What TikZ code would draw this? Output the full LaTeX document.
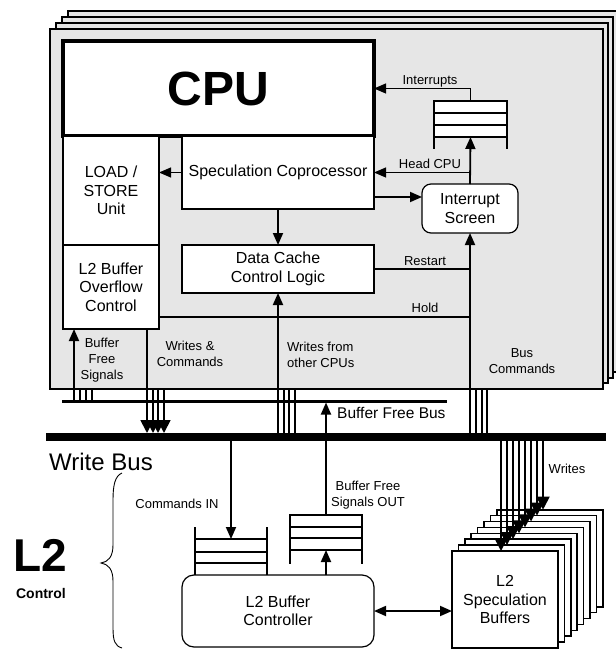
\documentclass[tikz,border=0pt]{standalone}
\usepackage{fontspec}
\setmainfont{Liberation Sans}
\usetikzlibrary{arrows.meta,calc}
\definecolor{panelgray}{HTML}{E6E6E6}
\newcommand{\fsz}[2]{\fontsize{#1}{#2}\selectfont}
\begin{document}
\begin{tikzpicture}[x=1pt,y=-1pt,
  panel/.style={draw, fill=panelgray, line width=1.2pt, anchor=north west, inner sep=0pt, outer sep=0pt},
  blk/.style={draw, fill=white, line width=1.2pt, anchor=north west, inner sep=0pt, outer sep=0pt, align=center, font=\fsz{16}{18.5}},
  qbox/.style={draw, fill=white, line width=1.1pt, anchor=north west, inner sep=0pt, outer sep=0pt},
  lbl/.style={inner sep=0pt, align=center, font=\fsz{13}{16}},
  arr/.style={-{Triangle[length=12pt,width=10pt]}, line width=1.8pt},
  tarr/.style={-{Triangle[length=12pt,width=10pt]}, line width=1.1pt},
  warr/.style={-{Triangle[length=13pt,width=13pt]}, line width=1.8pt},
  darr/.style={{Triangle[length=12pt,width=10pt]}-{Triangle[length=12pt,width=10pt]}, line width=1.8pt},
  bl/.style={line width=1.1pt},
  busline/.style={fill=black, draw=none, anchor=north west, inner sep=0pt, outer sep=0pt}
]
\useasboundingbox (0,0) rectangle (615,652);

% stacked panels
\node[panel, minimum width=550pt, minimum height=361pt] (p3) at (68,11) {};
\node[panel, minimum width=551pt, minimum height=361pt] (p2) at (62,17) {};
\node[panel, minimum width=552pt, minimum height=360pt] (p1) at (56,23) {};
\node[panel, minimum width=553pt, minimum height=360pt] (p0) at (50,29) {};

% blocks
\node[blk, line width=4pt, minimum width=311pt, minimum height=95pt, font=\bfseries\fsz{48}{50}] (cpu) at (63,41) {CPU};
\node[blk, minimum width=96pt, minimum height=109pt] (ls) at (63,136) {LOAD /\\STORE\\Unit};
\node[blk, minimum width=96pt, minimum height=84pt] (ovf) at (63,245) {L2 Buffer\\Overflow\\Control};
\node[blk, minimum width=192pt, minimum height=73pt] (spec) at (182,136) {Speculation Coprocessor};
\node[blk, minimum width=192pt, minimum height=48pt] (dcc) at (182,245) {Data Cache\\Control Logic};
\node[blk, rounded corners=9pt, minimum width=96pt, minimum height=49pt] (isc) at (422,184) {Interrupt\\Screen};

% interrupt queue
\node[qbox, minimum width=73pt, minimum height=36pt] (qint) at (434,101) {};
\draw[bl] ($(qint.north west)+(0,12)$) -- ($(qint.north east)+(0,12)$);
\draw[bl] ($(qint.north west)+(0,24)$) -- ($(qint.north east)+(0,24)$);
\draw[bl] (qint.south west) -- ++(0,12);
\draw[bl] (qint.south east) -- ++(0,12);

% buses
\node[busline, minimum width=560pt, minimum height=8pt] (wbus) at (46,433) {};
\node[busline, minimum width=385pt, minimum height=2.5pt] (fbus) at (62,400) {};

% lower blocks
\node[blk, rounded corners=12pt, minimum width=192pt, minimum height=72pt] (ctrl) at (182,575) {L2 Buffer\\Controller};
\foreach \j in {7,6,...,1} {
  \node[blk, line width=1.6pt, minimum width=106pt, minimum height=97pt] (sb\j) at ({452+6.4*\j},{551-5.9*\j}) {};
}
\node[blk, line width=1.6pt, minimum width=106pt, minimum height=97pt] (sb0) at (452,551) {L2\\Speculation\\Buffers};

% queues in L2 control
\node[qbox, fill=none, minimum width=72pt, minimum height=24pt] (qin) at (195,539) {};
\draw[bl] ($(qin.north west)+(0,13)$) -- ($(qin.north east)+(0,13)$);
\draw[bl] ($(qin.north west)+(0,-12)$) -- (qin.north west |- ctrl.north);
\draw[bl] ($(qin.north east)+(0,-12)$) -- (qin.north east |- ctrl.north);

\node[qbox, fill=none, minimum width=72pt, minimum height=35pt] (qout) at (290,515) {};
\draw[bl] ($(qout.north west)+(0,12)$) -- ($(qout.north east)+(0,12)$);
\draw[bl] ($(qout.north west)+(0,23)$) -- ($(qout.north east)+(0,23)$);
\draw[bl] (qout.south west) -- ++(0,14);
\draw[bl] (qout.south east) -- ++(0,14);

% connectors inside the CPU panel
\draw[tarr] (qint.north) |- (cpu.east);
\draw[arr] (isc.north) -- (qint.south);
\draw[tarr] (isc.north |- spec.east) -- (spec.east);
\draw[arr] ($(spec.south east)+(0,-12)$) coordinate (sa) -- (sa -| isc.west);
\draw[tarr] (spec.west) -- (spec.west -| ls.east);
\draw[arr] (spec.south) -- (dcc.north);
\draw[bl] (dcc.east) -- (isc.south |- dcc.east);
\draw[bl] ($(ovf.south east)+(0,-12)$) coordinate (ha) -- (ha -| isc.south);
\draw[arr] (isc.south |- wbus.north) -- (isc.south);
\draw[arr] (dcc.south |- wbus.north) -- (dcc.south);

% buffer free signals
\coordinate (bfa) at ($(fbus.north west)+(12,1)$);
\draw[arr] (bfa) -- (bfa |- ovf.south);
\foreach \d in {6,12,18} \draw[bl] ($(bfa |- p0.south)+(\d,0)$) -- ($(bfa)+(\d,0)$);

% writes & commands
\coordinate (wc) at ($(ovf.south east)+(-12,0)$);
\draw[warr] (wc) -- (wc |- wbus.north);
\foreach \d in {6,11,17} \draw[warr] ($(wc |- p0.south)+(\d,0)$) -- ($(wc |- wbus.north)+(\d,0)$);

% writes from other CPUs
\foreach \d in {6,11,17} \draw[bl] ($(dcc.south |- p0.south)+(\d,0)$) -- ($(dcc.south |- wbus.north)+(\d,0)$);

% bus commands
\foreach \d in {6,12,17} \draw[bl] ($(isc.south |- p0.south)+(\d,0)$) -- ($(isc.south |- wbus.north)+(\d,0)$);

% buffer free bus / L2 control
\draw[arr] (qout.north) -- (qout.north |- fbus.south);
\draw[arr] (qin.north |- wbus.south) -- (qin.north);
\draw[arr] (qout.south |- ctrl.north) -- (qout.south);
\draw[darr] (ctrl.east) -- (ctrl.east -| sb0.west);

% writes into speculation buffers
\foreach \j in {0,...,7} {
  \draw[warr] ($(wbus.south west)+({455+6*\j},0)$) coordinate (w\j) -- (w\j |- sb\j.north);
}

% brace
\draw[line width=0.9pt] (122,473) .. controls (115,476) and (113,485) .. (113,500)
  -- (113,545) .. controls (113,557) and (108,562) .. (101,563)
  .. controls (108,564) and (113,569) .. (113,581)
  -- (113,628) .. controls (113,641) and (115,646) .. (122,648);

% labels
\node[lbl] (lint) at (430,81) {Interrupts};
\node[lbl] (lhead) at (430,164) {Head CPU};
\node[lbl] (lrest) at (425,261) {Restart};
\node[lbl] (lhold) at (425,308) {Hold};
\node[lbl] (lbfs) at (102,360) {Buffer\\Free\\Signals};
\node[lbl] (lwc) at (190,354) {Writes \&\\Commands};
\node[lbl, align=left, anchor=west] (lwo) at (287,355) {Writes from\\other CPUs};
\node[lbl] (lbc) at (522,361) {Bus\\Commands};
\node[lbl, anchor=west, font=\fsz{15.5}{18}] (lbfb) at (337,413) {Buffer Free Bus};
\node[lbl, anchor=west, font=\fsz{24}{26}] (lwb) at (49,462) {Write Bus};
\node[lbl] (lcin) at (177,504) {Commands IN};
\node[lbl] (lbfo) at (368,495) {Buffer Free\\Signals OUT};
\node[lbl] (lwr) at (567,469) {Writes};
\node[lbl, font=\bfseries\fsz{46}{48}] (ll2) at (40,555) {L2};
\node[lbl, font=\bfseries\fsz{14}{16}] (lctl) at (41,593) {Control};
\end{tikzpicture}
\end{document}
